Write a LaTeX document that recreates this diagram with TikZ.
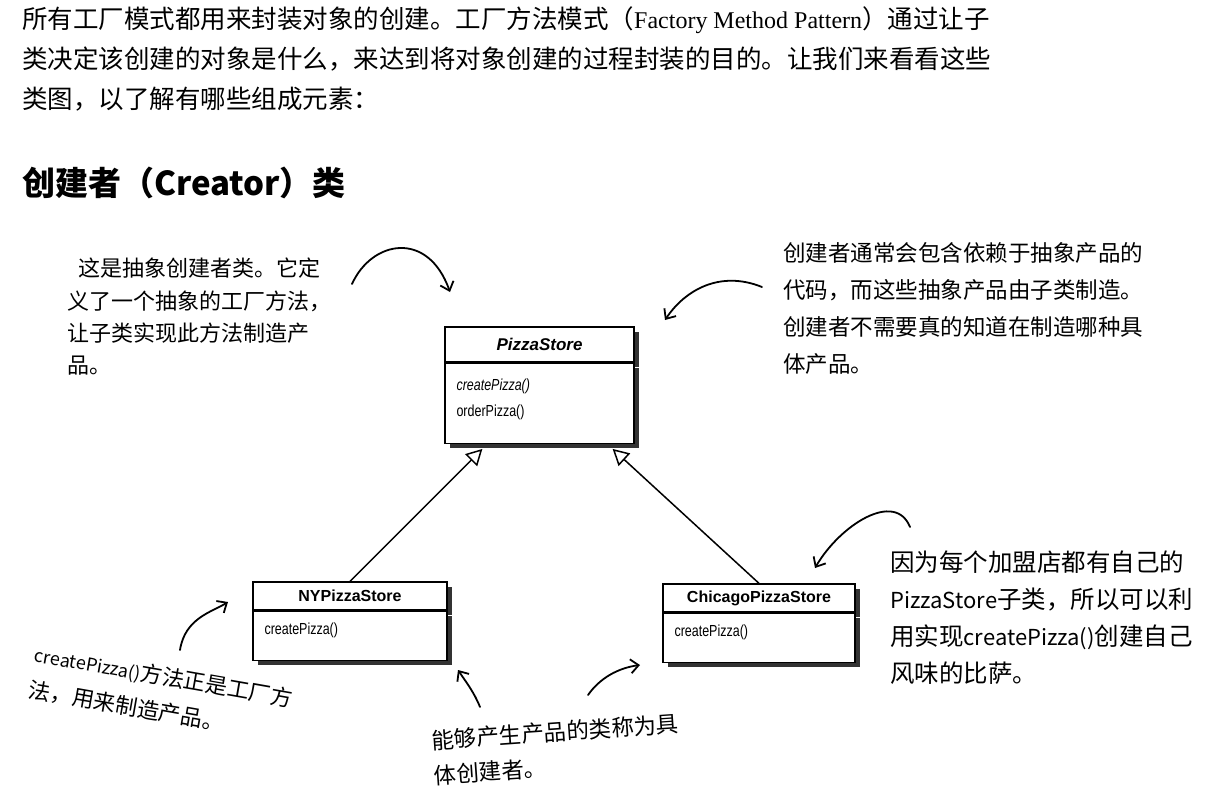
\documentclass[tikz,border=0pt]{standalone}
\usepackage{fontspec}
\setmainfont{Liberation Serif}
\newfontfamily\cjk{Noto Sans CJK SC}
\newfontfamily\umlsans{Liberation Sans}
\newfontfamily\umlnarrow[FakeStretch=0.78]{Liberation Sans}
\usetikzlibrary{positioning,calc,arrows.meta,shadows}

\begin{document}
\begin{tikzpicture}[x=1pt,y=-1pt,
  classhead/.style={draw,line width=1.3pt,fill=white,inner sep=0pt,
    font=\umlsans\bfseries\fontsize{16}{19}\selectfont,
    general shadow={fill=black!80,shadow xshift=5pt,shadow yshift=-5pt}},
  classbody/.style={draw,line width=1.3pt,fill=white,inner sep=0pt,
    general shadow={fill=black!80,shadow xshift=5pt,shadow yshift=-5pt}},
  method/.style={anchor=west,inner sep=0pt,font=\umlnarrow\fontsize{16}{18}\selectfont},
  inherit/.style={line width=1.5pt,-{Triangle[open,length=16pt,width=17pt]}},
  hand/.style={line width=1.8pt,line cap=round,-{Straight Barb[length=8pt,width=14pt]}},
  note/.style={anchor=north west,align=left,inner sep=0pt}]
  \useasboundingbox (0,0) rectangle (1211,806);

  % Texte d'introduction et titre
  \node[note,font=\cjk\fontsize{25.5}{40}\selectfont] (intro) at (22,6)
    {所有工厂模式都用来封装对象的创建。工厂方法模式（{\rmfamily\fontsize{24}{40}\selectfont Factory Method Pattern}）通过让子\\
     类决定该创建的对象是什么，来达到将对象创建的过程封装的目的。让我们来看看这些\\
     类图，以了解有哪些组成元素：};
  \node[anchor=west,inner sep=0pt,font=\cjk\bfseries\fontsize{33}{38}\selectfont] (heading) at (22,183)
    {创建者（Creator）类};

  % Classes
  \node[classhead,minimum width=189pt,minimum height=35pt,font=\umlsans\bfseries\itshape\fontsize{17}{19}\selectfont] (pshead) at (539.5,344.5) {PizzaStore};
  \node[classbody,minimum width=189pt,minimum height=80pt,below=0pt of pshead] (psbody) {};
  \node[method] (psm1) at ($(psbody.north west)+(12,24)$) {\itshape createPizza()};
  \node[method] (psm2) at ($(psbody.north west)+(12,50)$) {orderPizza()};

  \node[classhead,minimum width=194pt,minimum height=28pt] (nyhead) at (350,596) {NYPizzaStore};
  \node[classbody,minimum width=194pt,minimum height=49pt,below=0pt of nyhead] (nybody) {};
  \node[method] (nym) at ($(nybody.north west)+(12,20)$) {createPizza()};

  \node[classhead,minimum width=192pt,minimum height=28pt] (chhead) at (759,598) {ChicagoPizzaStore};
  \node[classbody,minimum width=192pt,minimum height=49pt,below=0pt of chhead] (chbody) {};
  \node[method] (chm) at ($(chbody.north west)+(12,20)$) {createPizza()};

  % Heritage
  \coordinate (psleft) at ($(psbody.south west)+(38,5)$);
  \coordinate (psright) at ($(psbody.south east)+(-22,5)$);
  \draw[inherit] (nyhead.north) -- (psleft);
  \draw[inherit] (chhead.north) -- (psright);

  % Annotations
  \node[note,font=\cjk\fontsize{22}{32.3}\selectfont] (noteabs) at (67,258)
    {\hspace{11pt}这是抽象创建者类。它定\\义了一个抽象的工厂方法，\\让子类实现此方法制造产\\品。};
  \node[note,font=\cjk\fontsize{22.5}{37}\selectfont] (notedep) at (783,242)
    {创建者通常会包含依赖于抽象产品的\\代码，而这些抽象产品由子类制造。\\创建者不需要真的知道在制造哪种具\\体产品。};
  \node[note,font=\cjk\fontsize{24.5}{37}\selectfont] (notesub) at (890,551)
    {因为每个加盟店都有自己的\\{\fontsize{22}{37}\selectfont PizzaStore}子类，所以可以利\\用实现{\fontsize{22}{37}\selectfont createPizza()}创建自己\\风味的比萨。};
  \node[note,rotate=-10,font=\cjk\fontsize{22}{36}\selectfont] (notefm) at (37,643)
    {{\fontsize{18}{36}\selectfont createPizza()}方法正是工厂方\\法，用来制造产品。};
  \node[note,rotate=4,font=\cjk\fontsize{22.5}{35}\selectfont] (noteconc) at (431,730)
    {能够产生产品的类称为具\\体创建者。};

  % Fleches dessinees a la main
  \coordinate (h1a) at (352,284); \coordinate (h1b) at (450,292);
  \coordinate (h2a) at (762,287); \coordinate (h2b) at (665,320);
  \coordinate (h3a) at (910,527); \coordinate (h3b) at (815,568);
  \coordinate (h4a) at (180,650); \coordinate (h4b) at (228,602);
  \coordinate (h5a) at (480,707); \coordinate (h5b) at (458,670);
  \coordinate (h6a) at (588,695); \coordinate (h6b) at (640,665);
  \draw[hand] (h1a) .. controls (372,240) and (428,230) .. (h1b);
  \draw[hand] (h2a) .. controls (720,270) and (685,290) .. (h2b);
  \draw[hand] (h3a) .. controls (895,490) and (840,525) .. (h3b);
  \draw[hand] (h4a) .. controls (185,618) and (212,612) .. (h4b);
  \draw[hand] (h5a) .. controls (474,692) and (466,682) .. (h5b);
  \draw[hand] (h6a) .. controls (600,678) and (618,668) .. (h6b);
\end{tikzpicture}
\end{document}
